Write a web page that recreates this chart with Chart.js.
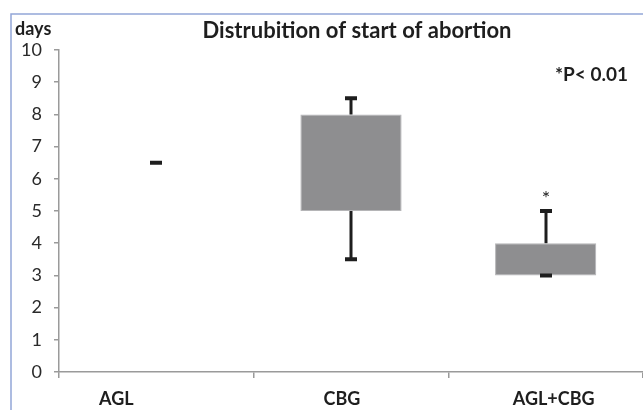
<!DOCTYPE html>
<html>
<head>
<meta charset="utf-8">
<script src="https://cdn.jsdelivr.net/npm/chart.js@4"></script>
<style>
  html, body { margin: 0; padding: 0; background: #fff; }
  #wrap { position: relative; width: 643px; height: 410px; }
</style>
</head>
<body>
<div id="wrap"><canvas id="chart" width="643" height="410"></canvas></div>
<script>
// Data
const categories = ['AGL', 'CBG', 'AGL+CBG'];
const boxLow = [null, 5, 3];
const boxHigh = [null, 8, 4];
const whiskerLow = [6.5, 3.5, 3];
const whiskerHigh = [6.5, 8.5, 5];
const sigMarks = ['', '', '*'];
const yTicks = [0, 1, 2, 3, 4, 5, 6, 7, 8, 9, 10];

const FONT = 'Lato, "Open Sans", sans-serif';

// Draws whiskers, caps, texts and the frame
const extras = {
    id: 'extras',
    afterDatasetsDraw(chart) {
        const ctx = chart.ctx;
        const x = chart.scales.x;
        const y = chart.scales.y;
        ctx.save();

        // whiskers
        ctx.strokeStyle = '#1e1e1e';
        categories.forEach((c, i) => {
            const cx = Math.round(x.getPixelForValue(i));
            const hi = whiskerHigh[i], lo = whiskerLow[i];
            const top = boxHigh[i] !== null ? boxHigh[i] : hi;
            const bot = boxLow[i] !== null ? boxLow[i] : lo;
            ctx.lineWidth = 3;
            ctx.beginPath();
            if (hi > top) {
                ctx.moveTo(cx, y.getPixelForValue(top));
                ctx.lineTo(cx, y.getPixelForValue(hi));
            }
            if (lo < bot) {
                ctx.moveTo(cx, y.getPixelForValue(bot));
                ctx.lineTo(cx, y.getPixelForValue(lo));
            }
            ctx.stroke();
            ctx.lineWidth = 4;
            ctx.beginPath();
            [hi, lo].forEach(v => {
                const py = y.getPixelForValue(v);
                ctx.moveTo(cx - 6, py);
                ctx.lineTo(cx + 6, py);
            });
            ctx.stroke();

            if (sigMarks[i]) {
                ctx.fillStyle = '#222';
                ctx.font = '20px ' + FONT;
                ctx.textAlign = 'center';
                ctx.textBaseline = 'middle';
                ctx.fillText(sigMarks[i], cx, y.getPixelForValue(hi) - 12);
            }
        });

        // category labels
        const labelShift = [-40, -9, 8];
        ctx.fillStyle = '#1e1e1e';
        ctx.font = 'bold 18px ' + FONT;
        ctx.textAlign = 'center';
        ctx.textBaseline = 'middle';
        categories.forEach((c, i) => {
            ctx.fillText(c, x.getPixelForValue(i) + labelShift[i], 399);
        });

        // title and notes
        ctx.font = 'bold 22px ' + FONT;
        ctx.fillText('Distrubition of start of abortion', 357, 31);
        ctx.font = 'bold 18px ' + FONT;
        ctx.textAlign = 'left';
        ctx.fillText('days', 15, 29);
        ctx.font = 'bold 19px ' + FONT;
        ctx.fillText('*P< 0.01', 555, 75);

        // frame
        ctx.strokeStyle = '#93a6d8';
        ctx.lineWidth = 1.5;
        ctx.beginPath();
        ctx.moveTo(11, 410);
        ctx.lineTo(11, 14);
        ctx.lineTo(643, 14);
        ctx.stroke();
        ctx.restore();
    }
};

new Chart(document.getElementById('chart'), {
    type: 'bar',
    data: {
        labels: categories,
        datasets: [{
            data: boxLow.map((v, i) => v === null ? null : [v, boxHigh[i]]),
            backgroundColor: '#8e8e90',
            borderColor: '#b5b5b7',
            borderWidth: 1,
            borderSkipped: false,
            barPercentage: 0.52,
            categoryPercentage: 1
        }]
    },
    options: {
        responsive: false,
        animation: false,
        devicePixelRatio: 1,
        layout: { padding: { top: 50, left: 0, right: 0, bottom: 0 } },
        plugins: {
            legend: { display: false },
            tooltip: { enabled: false }
        },
        scales: {
            x: {
                offset: true,
                grid: {
                    offset: true,
                    drawOnChartArea: false,
                    drawTicks: true,
                    tickLength: 6,
                    color: '#9a9a9a',
                    lineWidth: 1.5
                },
                border: { color: '#9a9a9a', width: 1.5 },
                ticks: { display: false },
                afterFit(scale) { scale.height = 38; }
            },
            y: {
                min: 0,
                max: 10,
                afterBuildTicks(scale) {
                    scale.ticks = yTicks.map(v => ({ value: v }));
                },
                grid: {
                    drawOnChartArea: false,
                    drawTicks: true,
                    tickLength: 5,
                    color: '#9a9a9a',
                    lineWidth: 1.5
                },
                border: { color: '#9a9a9a', width: 1.5 },
                ticks: {
                    color: '#2a2a2a',
                    font: { size: 18, family: FONT },
                    padding: 12
                },
                afterFit(scale) { scale.width = 59; }
            }
        }
    },
    plugins: [extras]
});
</script>
</body>
</html>
